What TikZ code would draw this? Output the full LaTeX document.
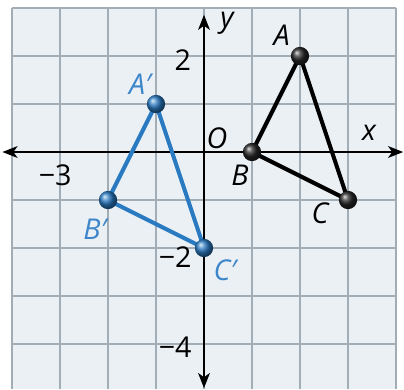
\documentclass[tikz,border=0pt]{standalone}
\usepackage{fontspec}
\setmainfont{Open Sans}
\usepackage{xcolor}
\usetikzlibrary{arrows.meta,shapes.geometric,positioning,calc}

\definecolor{gridbg}{HTML}{EBF0F5}
\definecolor{gridgray}{HTML}{A3ADB6}
\definecolor{imgblue}{HTML}{2A7AC2}
\definecolor{labelblue}{HTML}{3D86C9}

\tikzset{
	gridline/.style={gridgray, line width=0.7pt},
	axisline/.style={black, line width=0.9pt, {Stealth[length=9pt,width=7pt,inset=2.5pt]}-{Stealth[length=9pt,width=7pt,inset=2.5pt]}},
	bdot/.style={circle, inner sep=0pt, minimum size=0.38cm, shading=ball, ball color=black!85},
	cdot/.style={circle, inner sep=0pt, minimum size=0.38cm, shading=ball, ball color=imgblue},
	ptlabel/.style={font=\fontsize{17}{20}\selectfont\itshape, inner sep=1pt},
	plabel/.style={ptlabel, text=labelblue},
	numlabel/.style={font=\fontsize{17}{20}\selectfont, inner sep=1pt},
}

\begin{document}
\begin{tikzpicture}
		\useasboundingbox (-4.25,-4.9375) rectangle (4.1667,3.1667);

		% grid
		\fill[gridbg] (-4,-4.94) rectangle (4,3);
		\draw[gridline] (-4,-4.94) grid (4,3);

		% axes
		\draw[axisline] (-4.2,0) -- (4.15,0);
		\draw[axisline] (0,-4.92) -- (0,2.86);
		\node[ptlabel] (xlab) at (3.44,0.4) {x};
		\node[ptlabel] (ylab) at (0.48,2.69) {y};
		\node[ptlabel] (olab) at (0.27,0.29) {O};
		\node[numlabel] (n2) at (-0.44,1.92) {2};
		\node[numlabel] (nm3) at (-3.1,-0.48) {−3};
		\node[numlabel] (nm2) at (-0.6,-2.19) {−2};
		\node[numlabel] (nm4) at (-0.6,-4.06) {−4};

		% image triangle
		\coordinate (Ai) at (-1,1);
		\coordinate (Bi) at (-2,-1);
		\coordinate (Ci) at (0,-2);
		\draw[imgblue, line width=2.4pt, line join=round] (Ai) -- (Bi) -- (Ci) -- cycle;
		\node[cdot] (dAi) at (Ai) {};
		\node[cdot] (dBi) at (Bi) {};
		\node[cdot] (dCi) at (Ci) {};
		\node[plabel] (lAi) at (-1.33,1.42) {A′};
		\node[plabel] (lBi) at (-2.27,-1.6) {B′};
		\node[plabel] (lCi) at (0.44,-2.46) {C′};

		% preimage triangle
		\coordinate (A) at (2,2);
		\coordinate (B) at (1,0);
		\coordinate (C) at (3,-1);
		\draw[black, line width=2.4pt, line join=round] (A) -- (B) -- (C) -- cycle;
		\node[bdot] (dA) at (A) {};
		\node[bdot] (dB) at (B) {};
		\node[bdot] (dC) at (C) {};
		\node[ptlabel] (lA) at (1.62,2.44) {A};
		\node[ptlabel] (lB) at (0.75,-0.48) {B};
		\node[ptlabel] (lC) at (2.42,-1.27) {C};
	\end{tikzpicture}
\end{document}
